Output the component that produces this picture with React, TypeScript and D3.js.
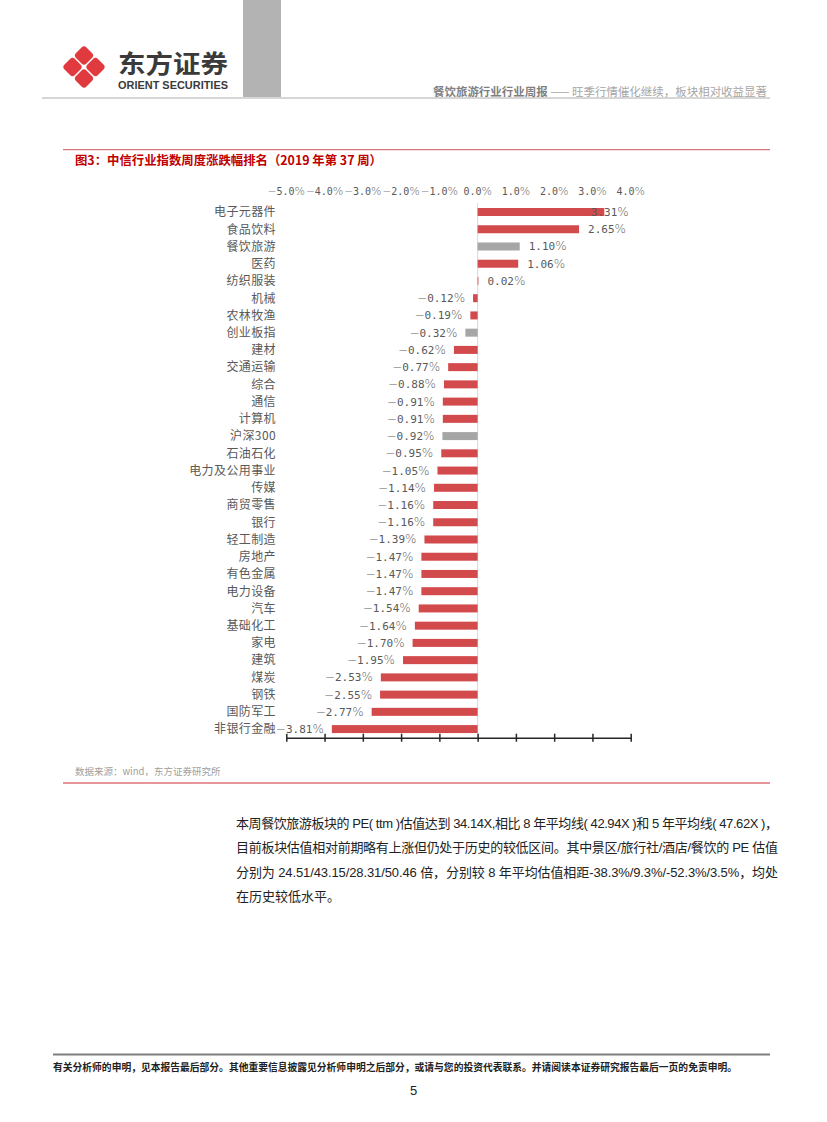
import React, { useEffect, useRef } from "react";
import * as d3 from "d3";

const categories = [
  "电子元器件", "食品饮料", "餐饮旅游", "医药", "纺织服装", "机械", "农林牧渔", "创业板指",
  "建材", "交通运输", "综合", "通信", "计算机", "沪深300", "石油石化", "电力及公用事业",
  "传媒", "商贸零售", "银行", "轻工制造", "房地产", "有色金属", "电力设备", "汽车",
  "基础化工", "家电", "建筑", "煤炭", "钢铁", "国防军工", "非银行金融",
];
const values = [
  3.31, 2.65, 1.10, 1.06, 0.02, -0.12, -0.19, -0.32,
  -0.62, -0.77, -0.88, -0.91, -0.91, -0.92, -0.95, -1.05,
  -1.14, -1.16, -1.16, -1.39, -1.47, -1.47, -1.47, -1.54,
  -1.64, -1.70, -1.95, -2.53, -2.55, -2.77, -3.81,
];
const greyCategories = ["餐饮旅游", "创业板指", "沪深300"];
const tickValues = [-5, -4, -3, -2, -1, 0, 1, 2, 3, 4];

const paragraphLines = [
  "本周餐饮旅游板块的 PE( ttm )估值达到 34.14X,相比 8 年平均线( 42.94X )和 5 年平均线( 47.62X )，",
  "目前板块估值相对前期略有上涨但仍处于历史的较低区间。其中景区/旅行社/酒店/餐饮的 PE 估值",
  "分别为 24.51/43.15/28.31/50.46 倍，分别较 8 年平均估值相距-38.3%/9.3%/-52.3%/3.5%，均处",
  "在历史较低水平。",
];

const RED = "#d34a4d";
const GREY = "#a6a6a6";
const LABEL = "#595959";
const CJK = "'Noto Sans CJK SC', 'Noto Sans', sans-serif";
const MONO = "'DejaVu Sans Mono', monospace";
const SANS = "'DejaVu Sans', sans-serif";

function appendNumber(
  t: any, v: number, digits: number,
  sizes: { minus: number; mono: number; pct: number }
) {
  if (v < 0) {
    t.append("tspan").attr("font-family", SANS).attr("font-size", sizes.minus).attr("font-weight", 300).text("−");
  }
  t.append("tspan").attr("font-family", MONO).attr("font-size", sizes.mono).text(Math.abs(v).toFixed(digits));
  t.append("tspan").attr("font-family", SANS).attr("font-size", sizes.pct).attr("font-weight", 300).text("%");
}

export default function App() {
  const ref = useRef<SVGGElement>(null);

  useEffect(() => {
    const g = d3.select(ref.current);
    g.selectAll("*").remove();

    const x = d3.scaleLinear().domain([-5, 4]).range([286.3, 630.7]);
    const y = d3.scaleBand<string>().domain(categories).range([203.4, 737.7])
      .paddingInner(0.536).paddingOuter(0.268);
    const data = categories.map((c, i) => ({ c, v: values[i] }));

    // zero line
    g.append("line").attr("x1", x(0)).attr("x2", x(0))
      .attr("y1", 203).attr("y2", 737.7)
      .attr("stroke", "#d9d9d9").attr("stroke-width", 1);

    // bars
    g.selectAll("rect.bar").data(data).enter().append("rect")
      .attr("class", "bar")
      .attr("x", (d) => x(Math.min(0, d.v)))
      .attr("width", (d) => Math.max(0.6, Math.abs(x(d.v) - x(0))))
      .attr("y", (d) => y(d.c)!)
      .attr("height", y.bandwidth())
      .attr("fill", (d) => (greyCategories.includes(d.c) ? GREY : RED));

    // category labels
    g.selectAll("text.cat").data(data).enter().append("text")
      .attr("class", "cat")
      .attr("x", 276)
      .attr("y", (d) => y(d.c)! + y.bandwidth() / 2)
      .attr("dy", "0.36em")
      .attr("text-anchor", "end")
      .attr("font-family", CJK)
      .attr("font-size", 12)
      .attr("letter-spacing", 0.4)
      .attr("fill", LABEL)
      .text((d) => d.c);

    // value labels
    const xMax = x(4);
    data.forEach((d) => {
      const t = g.append("text")
        .attr("y", y(d.c)! + y.bandwidth() / 2 + 4)
        .attr("fill", LABEL) as any;
      appendNumber(t, d.v, 2, { minus: 12, mono: 11, pct: 12 });
      const w = (t.node() as SVGTextElement).getComputedTextLength();
      if (d.v >= 0) {
        let sx = x(d.v) + 9;
        if (sx + w > xMax - 2) sx = xMax - 2 - w;
        t.attr("x", sx);
      } else {
        t.attr("x", x(d.v) - 8 - w);
      }
    });

    // top tick labels
    tickValues.forEach((v) => {
      const t = g.append("text")
        .attr("y", 195)
        .attr("fill", LABEL) as any;
      appendNumber(t, v, 1, { minus: 10.5, mono: 10, pct: 11 });
      const w = (t.node() as SVGTextElement).getComputedTextLength();
      t.attr("x", x(v) - w / 2);
    });

    // bottom axis
    const axisY = 737.7;
    const axis = d3.axisBottom(x).tickValues(tickValues).tickSize(0).tickFormat(() => "");
    const ag = g.append("g").attr("transform", `translate(0,${axisY})`).call(axis);
    ag.select(".domain").attr("stroke", "#262626").attr("stroke-width", 1.5);
    ag.selectAll(".tick").append("line")
      .attr("y1", -4).attr("y2", 4)
      .attr("stroke", "#262626").attr("stroke-width", 1.5);
  }, []);

  return (
    <svg
      width={827}
      height={1122}
      style={{ position: "absolute", left: 0, top: 0, background: "#fff" }}
    >
      <rect x={0} y={0} width={827} height={1122} fill="#fff" />
      {/* header */}
      <rect x={243} y={0} width={38} height={97} fill="#b3b3b3" />
      <g transform="translate(84,67)">
        {[[0, -11.5], [11.5, 0], [0, 11.5], [-11.5, 0]].map(([dx, dy], i) => (
          <rect key={i} x={dx - 7.4} y={dy - 7.4} width={14.8} height={14.8} rx={3.5}
            transform={`rotate(45 ${dx} ${dy})`} fill="#e03a3e" />
        ))}
      </g>
      <text x={118} y={73} fontFamily={CJK} fontWeight={700} fontSize={25} fill="#3a3a3a"
        textLength={110} lengthAdjust="spacingAndGlyphs">东方证券</text>
      <text x={118} y={89} fontFamily="'Liberation Sans', Arial, sans-serif" fontWeight={700}
        fontSize={10} fill="#3a3a3a" textLength={110} lengthAdjust="spacingAndGlyphs">ORIENT SECURITIES</text>
      <line x1={42} x2={770} y1={98} y2={98} stroke="#d6d6d6" strokeWidth={2} />
      <text x={433} y={96} fontFamily={CJK} fontSize={11.5}
        textLength={334} lengthAdjust="spacingAndGlyphs">
        <tspan fill="#7f7f7f" fontWeight={700}>餐饮旅游行业行业周报</tspan>
        <tspan fill="#a6a6a6"> —— 旺季行情催化继续，板块相对收益显著</tspan>
      </text>

      {/* figure title */}
      <line x1={63} x2={770} y1={149.7} y2={149.7} stroke="#dc7378" strokeWidth={1.3} />
      <text x={75} y={164.5} fontFamily={CJK} fontWeight={700} fontSize={12.5} fill="#c00000"
        textLength={307} lengthAdjust="spacingAndGlyphs">图3：中信行业指数周度涨跌幅排名（2019 年第 37 周）</text>

      <g ref={ref} />

      {/* source */}
      <text x={75} y={774.5} fontFamily={CJK} fontSize={9.5} fill="#a0a0a0">数据来源：wind，东方证券研究所</text>
      <line x1={63} x2={770} y1={783} y2={783} stroke="#dc7378" strokeWidth={1.3} />

      {/* paragraph */}
      {paragraphLines.map((l, i) => (
        <text key={i} x={236} y={827.5 + i * 24.5}
          fontFamily="'Liberation Sans', 'Noto Sans CJK SC', sans-serif" fontSize={13} fill="#222"
          {...(i < 3 ? { textLength: 542, lengthAdjust: "spacing" } : {})}>{l}</text>
      ))}

      {/* footer */}
      <line x1={53} x2={770} y1={1054.5} y2={1054.5} stroke="#7f7f7f" strokeWidth={2} />
      <text x={53} y={1071} fontFamily={CJK} fontWeight={700} fontSize={10} fill="#222"
        textLength={684} lengthAdjust="spacingAndGlyphs">有关分析师的申明，见本报告最后部分。其他重要信息披露见分析师申明之后部分，或请与您的投资代表联系。并请阅读本证券研究报告最后一页的免责申明。</text>
      <text x={413.5} y={1095} textAnchor="middle" fontFamily="'Liberation Sans', sans-serif"
        fontSize={13} fill="#222">5</text>
    </svg>
  );
}
